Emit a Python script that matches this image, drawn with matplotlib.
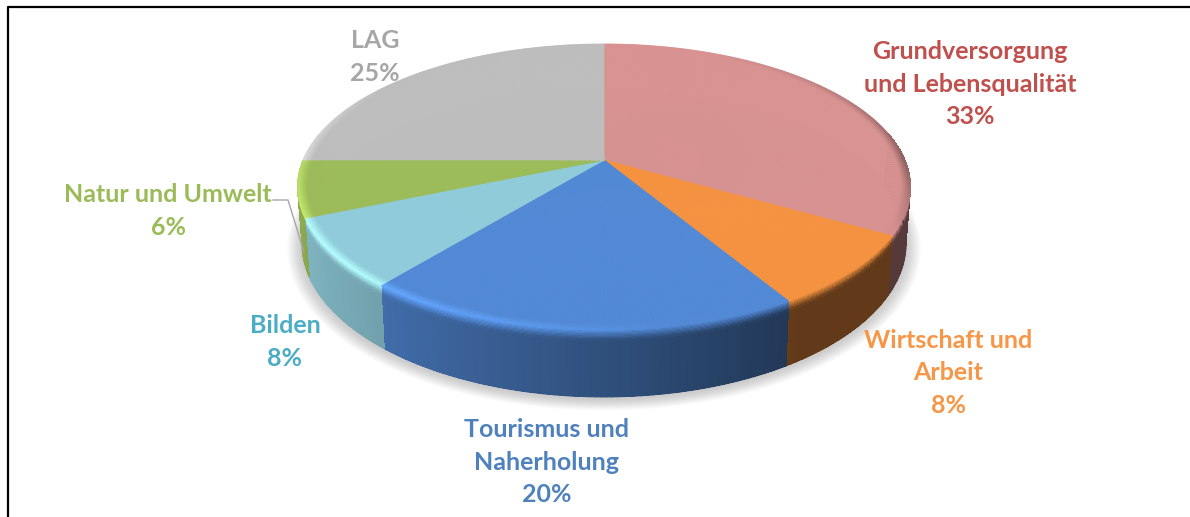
import numpy as np
import matplotlib
matplotlib.use("Agg")
import matplotlib.pyplot as plt
from matplotlib.collections import PolyCollection, LineCollection

# chart data
categories = ["Grundversorgung\nund Lebensqualität", "Wirtschaft und\nArbeit", "Tourismus und\nNaherholung",
              "Bilden", "Natur und Umwelt", "LAG"]
values = [33.3, 8.1, 19.5, 7.7, 6.4, 25.0]
percent_labels = ["33%", "8%", "20%", "8%", "6%", "25%"]
slice_colors = ["#d79291", "#f59240", "#5289d6", "#8fcbda", "#9cbb59", "#bdbdbd"]
text_colors = ["#c0504d", "#f79646", "#4f81bd", "#4bacc6", "#9bbb59", "#a6a6a6"]
label_pos = [(970, 84), (948, 373), (547, 462), (285, 342), (168, 211), (375, 57)]

# pie geometry in pixels, k is the perspective strength
CX, CY = 604, 160
A, B, K = 301, 138, 0.189
DEPTH = 54


def project(r, theta, depth=0.0):
    # theta runs clockwise from 12 o'clock
    u = r * np.sin(theta)
    v = -r * np.cos(theta)
    w = 1 - K * v
    squeeze = 1 - 0.015 * depth / DEPTH
    return CX + A * u / w * squeeze, CY + (B * v + depth) / w


def rgb(c):
    return np.array(matplotlib.colors.to_rgb(c))


def wall_color(base, u):
    return base * max(0.4, 0.58 - 0.33 * u)


def rim_color(base, u, front):
    # bright edge on the left, darker edge towards the back right
    if u < 0.2:
        return np.clip(base * (1 + 0.28 * np.clip(0.2 - u, 0, 1)), 0, 1)
    return base * (1 - 0.4 * np.clip(1 - front * 2, 0, 1))


def quad(r0, r1, d0, d1, t0, t1):
    return [project(r0, t0, d0), project(r0, t1, d0), project(r1, t1, d1), project(r1, t0, d1)]


fig = plt.figure(figsize=(11.9, 5.17), dpi=100)
ax = fig.add_axes([0, 0, 1, 1])
ax.set_xlim(0, 1190)
ax.set_ylim(517, 0)
ax.axis("off")

# frame of the pasted picture
ax.plot([8, 8, 1190], [517, 6.5, 6.5], color="black", lw=1.6, solid_capstyle="butt", zorder=1)

# soft shadow under the disc
angles = np.linspace(0, 2 * np.pi, 240)
for i in range(14):
    sx, sy = project(1.0, angles, DEPTH)
    grow = 1 + 0.0035 * (14 - i)
    ax.fill(CX + (sx - CX) * grow, CY + (sy - CY) * grow + 2, color="#707070", alpha=0.028, lw=0, zorder=2)

edges = np.radians(np.concatenate([[0], np.cumsum(values)]) * 3.6)

wall_polys, wall_colors = [], []
top_polys, top_colors = [], []
edge_segs, edge_colors = [], []
for i, val in enumerate(values):
    base = rgb(slice_colors[i])
    n = max(6, int(val * 4))
    tt = np.linspace(edges[i], edges[i + 1], n + 1)
    for t0, t1 in zip(tt[:-1], tt[1:]):
        tm = (t0 + t1) / 2
        u = np.sin(tm)
        front = -np.cos(tm)
        wall = wall_color(base, u)
        rim = rim_color(base, u, front)
        if front > -0.2:
            # wall, the upper bit blends from the rim colour into the wall colour
            wall_polys.append(quad(1, 1, 8, DEPTH, t0, t1))
            wall_colors.append(wall)
            for j in range(8):
                f = (j + 0.5) / 8
                wall_polys.append(quad(1, 1, j, j + 1, t0, t1))
                wall_colors.append(rim * (1 - f) + wall * f)
            # smooth line along the lower edge, the wall itself is not antialiased
            edge_segs.append([project(1, t0, DEPTH), project(1, t1, DEPTH)])
            edge_colors.append(wall)
        # flat top with a small bevel at the edge
        top_polys.append([(CX, CY), project(0.97, t0), project(0.97, t1)])
        top_colors.append(base)
        weight = np.clip(front + 0.6, 0, 1) if u < 0.2 else np.clip(front + 0.9, 0, 1)
        for j in range(4):
            f = (j + 0.5) / 4
            top_polys.append(quad(0.97 + 0.0075 * j, 0.97 + 0.0075 * (j + 1), 0, 0, t0, t1))
            top_colors.append(base * (1 - f * weight) + rim * f * weight)

ax.add_collection(PolyCollection(wall_polys, facecolors=wall_colors, edgecolors="none", antialiaseds=False, zorder=3))
ax.add_collection(LineCollection(edge_segs, colors=edge_colors, linewidths=1.0, capstyle="round", zorder=3.05))
ax.add_collection(PolyCollection(top_polys, facecolors=top_colors, edgecolors=top_colors, linewidths=0.5, zorder=3.1))

# leader line for the green slice
ax.plot([273, 288, 304], [200, 200, 252], color="#a6a6a6", lw=1.0, zorder=4)

for name, pct, col, (lx, ly) in zip(categories, percent_labels, text_colors, label_pos):
    ax.text(lx, ly, name + "\n" + pct, color=col, family="Lato", weight="bold", fontsize=18,
            ha="center", va="center", linespacing=1.48, zorder=5)

fig.savefig("out.png", dpi=100)
